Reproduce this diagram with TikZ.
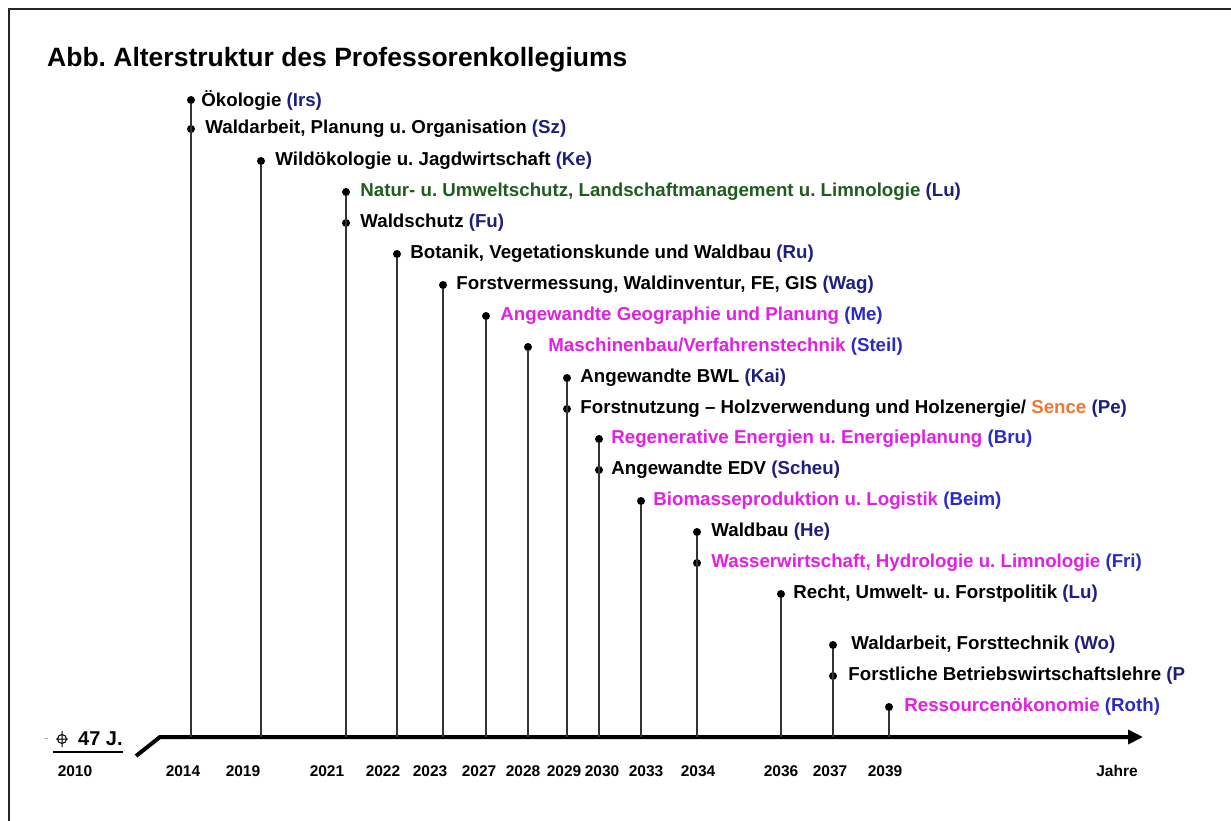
\documentclass[tikz,border=0pt]{standalone}
\usepackage{fontspec}
\setmainfont{Liberation Sans}
\usetikzlibrary{arrows.meta, positioning}
\definecolor{code}  {HTML}{1E1E7E}
\definecolor{codeb} {HTML}{2A2AC8}
\definecolor{mag}   {HTML}{E21FE2}
\definecolor{grn}   {HTML}{1F5C1F}
\definecolor{orng}  {HTML}{EE7830}
\definecolor{stem}  {HTML}{333333}
\frenchspacing

\begin{document}
\begin{tikzpicture}[x=1pt, y=-1pt, font=\bfseries\fontsize{18.7}{22}\selectfont,
    dot/.style={circle, fill=black, inner sep=0pt, minimum size=8pt},
    lbl/.style={inner sep=0pt, anchor=west},
    yr/.style={inner sep=0pt, font=\bfseries\fontsize{15.5}{18}\selectfont},
    stemline/.style={stem, line width=1.5pt}]
      \useasboundingbox (0,0) rectangle (1231,821);
      \clip (0,0) rectangle (1231,821);
      \draw[line width=2.5pt, black!85] (9,9) rectangle (1260,850);

      \node[lbl, font=\bfseries\fontsize{26.5}{32}\selectfont] (title) at (47,60) {Abb. Alterstruktur des Professorenkollegiums};

      % time axis
      \coordinate (brk) at (136,756);
      \coordinate (ax) at (160,737);
      \coordinate (axend) at (1143,737);
      \draw[line width=4pt, -{Triangle[length=15pt, width=14pt]}] (brk) -- (ax) -- (axend);

      % subjects
      \node[dot] (d1) at (191,100) {};
      \node[lbl, right=6pt of d1] (l1) {Ökologie \textcolor{code}{(Irs)}};
      \node[dot] (d2) at (191,129) {};
      \node[lbl, right=10pt of d2] (l2) {Waldarbeit, Planung u. Organisation \textcolor{code}{(Sz)}};
      \node[dot] (d3) at (261,161) {};
      \node[lbl, right=10pt of d3] (l3) {Wildökologie u. Jagdwirtschaft \textcolor{code}{(Ke)}};
      \node[dot] (d4) at (346,192) {};
      \node[lbl, right=10pt of d4] (l4) {\textcolor{grn}{Natur- u. Umweltschutz, Landschaftmanagement u. Limnologie} \textcolor{code}{(Lu)}};
      \node[dot] (d5) at (346,223) {};
      \node[lbl, right=10pt of d5] (l5) {Waldschutz \textcolor{code}{(Fu)}};
      \node[dot] (d6) at (397,254) {};
      \node[lbl, right=9pt of d6] (l6) {Botanik, Vegetationskunde und Waldbau \textcolor{code}{(Ru)}};
      \node[dot] (d7) at (443,285) {};
      \node[lbl, right=9pt of d7] (l7) {Forstvermessung, Waldinventur, FE, GIS \textcolor{code}{(Wag)}};
      \node[dot] (d8) at (486,316) {};
      \node[lbl, right=10pt of d8] (l8) {\textcolor{mag}{Angewandte Geographie und Planung} \textcolor{codeb}{(Me)}};
      \node[dot] (d9) at (528,347) {};
      \node[lbl, right=16pt of d9] (l9) {\textcolor{mag}{Maschinenbau/Verfahrenstechnik} \textcolor{codeb}{(Steil)}};
      \node[dot] (d10) at (567,378) {};
      \node[lbl, right=9pt of d10] (l10) {Angewandte BWL \textcolor{code}{(Kai)}};
      \node[dot] (d11) at (567,409) {};
      \node[lbl, right=9pt of d11] (l11) {Forstnutzung -- Holzverwendung und Holzenergie/ \textcolor{orng}{Sence} \textcolor{code}{(Pe)}};
      \node[dot] (d12) at (599,439) {};
      \node[lbl, right=8pt of d12] (l12) {\textcolor{mag}{Regenerative Energien u. Energieplanung} \textcolor{codeb}{(Bru)}};
      \node[dot] (d13) at (599,470) {};
      \node[lbl, right=8pt of d13] (l13) {Angewandte EDV \textcolor{code}{(Scheu)}};
      \node[dot] (d14) at (641,501) {};
      \node[lbl, right=8pt of d14] (l14) {\textcolor{mag}{Biomasseproduktion u. Logistik} \textcolor{codeb}{(Beim)}};
      \node[dot] (d15) at (697,532) {};
      \node[lbl, right=10pt of d15] (l15) {Waldbau \textcolor{code}{(He)}};
      \node[dot] (d16) at (697,563) {};
      \node[lbl, right=10pt of d16] (l16) {\textcolor{mag}{Wasserwirtschaft, Hydrologie u. Limnologie} \textcolor{codeb}{(Fri)}};
      \node[dot] (d17) at (781,594) {};
      \node[lbl, right=8pt of d17] (l17) {Recht, Umwelt- u. Forstpolitik \textcolor{code}{(Lu)}};
      \node[dot] (d18) at (833,645) {};
      \node[lbl, right=14pt of d18] (l18) {Waldarbeit, Forsttechnik \textcolor{code}{(Wo)}};
      \node[dot] (d19) at (833,676) {};
      \node[lbl, right=11pt of d19] (l19) {Forstliche Betriebswirtschaftslehre \textcolor{code}{(P}};
      \node[dot] (d20) at (889,707) {};
      \node[lbl, right=11pt of d20] (l20) {\textcolor{mag}{Ressourcenökonomie} \textcolor{codeb}{(Roth)}};

      % stems down to the axis
      \foreach \d in {d1,d3,d4,d6,d7,d8,d9,d10,d12,d14,d15,d17,d18,d20}
        \draw[stemline] (\d) -- (\d |- ax);

      % years
      \foreach \yr/\xx in {2010/75, 2014/183, 2019/243, 2021/327, 2022/383, 2023/430, 2027/479, 2028/523,
          2029/564, 2030/602, 2033/646, 2034/698, 2036/781, 2037/830, 2039/885}
        \node[yr] (y\yr) at (\xx,771) {\yr};
      \node[yr] (jahre) at (1117,771) {Jahre};

      % mean age
      \draw[gray!60, line width=1pt] (44,738) -- (48,738);
      \draw[line width=1pt] (62,739) circle (4.5pt) (62,731) -- (62,747) (56,739) -- (68,739);
      \node[lbl, font=\bfseries\fontsize{20}{24}\selectfont] (avg) at (78,739) {47 J.};
      \draw[line width=1.5pt] (53,752) -- (avg.east |- 0,752);
    \end{tikzpicture}
\end{document}
